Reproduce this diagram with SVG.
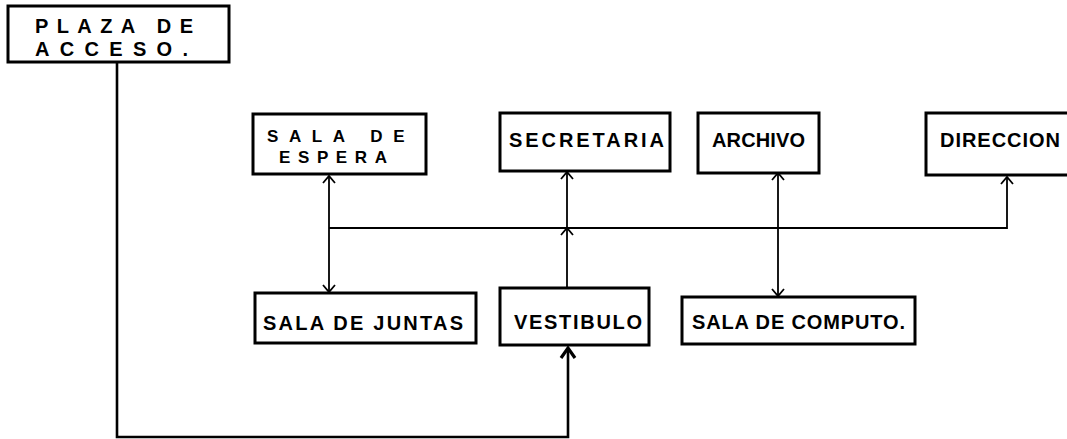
<svg xmlns="http://www.w3.org/2000/svg" width="1067" height="439" viewBox="0 0 1067 439">
<style>
.box{fill:#fff;stroke:#000;stroke-width:3}
.t{font-family:"Liberation Sans",Arial,sans-serif;font-weight:bold;font-size:20px;fill:#000}
.s{font-size:17px}
.c{fill:none;stroke:#000;stroke-width:1.8}
.main{fill:none;stroke:#000;stroke-width:2.6}
</style>
<defs>
<marker id="ar" viewBox="-8 -8 10 16" markerWidth="10" markerHeight="16" refX="0" refY="0" markerUnits="userSpaceOnUse" orient="auto-start-reverse">
<path d="M-7,-6 L0,0 L-7,6" fill="none" stroke="#000" stroke-width="1.8"/>
</marker>
<marker id="big" viewBox="-12 -10 14 20" markerWidth="14" markerHeight="20" refX="0" refY="0" markerUnits="userSpaceOnUse" orient="auto">
<path d="M-10,-7 L0,0 L-10,7" fill="none" stroke="#000" stroke-width="3.2"/>
</marker>
</defs>
<rect width="1067" height="439" fill="#fff"/>
<g id="connectors">
<path class="c" d="M329,228 H1007 V177" marker-end="url(#ar)"/>
<path class="c" d="M329,176 V292" marker-start="url(#ar)" marker-end="url(#ar)"/>
<path class="c" d="M567,287 V228 V172" marker-mid="url(#ar)" marker-end="url(#ar)"/>
<path class="c" d="M778,173 V296" marker-start="url(#ar)" marker-end="url(#ar)"/>
<path class="main" d="M117,62 V437 H568 V348" marker-end="url(#big)"/>
</g>
<g id="plaza">
<rect class="box" x="8" y="6" width="221" height="56"/>
<text class="t" x="35" y="33" textLength="158" lengthAdjust="spacing">PLAZA DE</text>
<text class="t" x="35" y="56" textLength="153" lengthAdjust="spacing">ACCESO.</text>
</g>
<g id="espera">
<rect class="box" x="253" y="114" width="173" height="60"/>
<text class="t s" x="267" y="142" letter-spacing="10.6">SALA DE</text>
<text class="t s" x="279" y="163" letter-spacing="7.6">ESPERA</text>
</g>
<g id="secretaria">
<rect class="box" x="500" y="113" width="170" height="58"/>
<text class="t" x="509" y="147" textLength="155" lengthAdjust="spacing">SECRETARIA</text>
</g>
<g id="archivo">
<rect class="box" x="698" y="113" width="121" height="60"/>
<text class="t" x="712" y="147" textLength="93" lengthAdjust="spacing">ARCHIVO</text>
</g>
<g id="direccion">
<rect class="box" x="926" y="113" width="145" height="62"/>
<text class="t" x="940" y="147" textLength="120" lengthAdjust="spacing">DIRECCION</text>
</g>
<g id="juntas">
<rect class="box" x="255" y="293" width="221" height="50"/>
<text class="t" x="263" y="330" textLength="200" lengthAdjust="spacing">SALA DE JUNTAS</text>
</g>
<g id="vestibulo">
<rect class="box" x="500" y="288" width="149" height="57"/>
<text class="t" x="514" y="329" textLength="128" lengthAdjust="spacing">VESTIBULO</text>
</g>
<g id="computo">
<rect class="box" x="682" y="297" width="233" height="47"/>
<text class="t" x="692" y="329" textLength="213" lengthAdjust="spacing">SALA DE COMPUTO.</text>
</g>
</svg>
